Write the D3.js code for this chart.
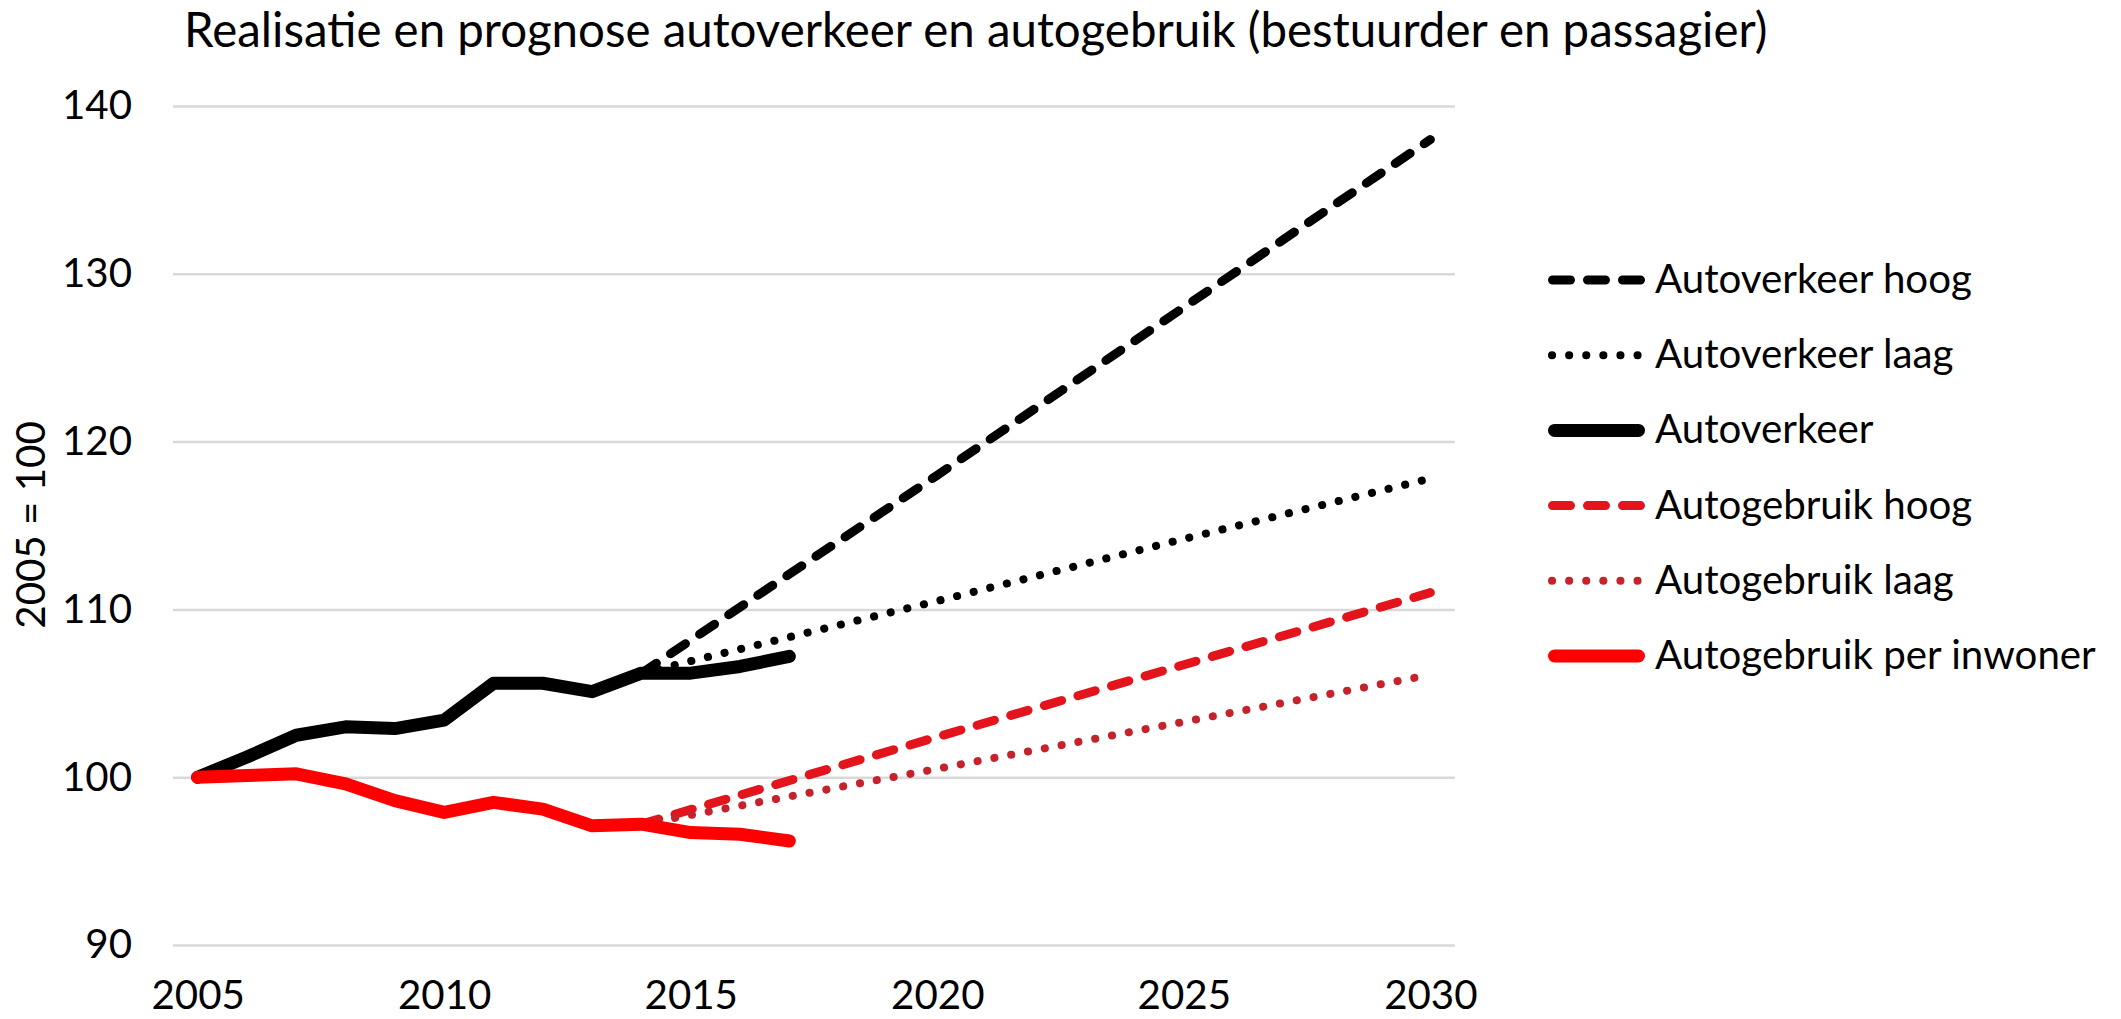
<!DOCTYPE html>
<html>
<head>
<meta charset="utf-8">
<script src="https://cdn.jsdelivr.net/npm/d3@7"></script>
<style>
  body { margin: 0; background: #fff; }
  svg { display: block; font-family: Lato, "Open Sans", sans-serif; }
</style>
</head>
<body>
<div class="chart"></div>
<script>
// realisatie 2005-2017 (2005 = 100)
const years = [2005, 2006, 2007, 2008, 2009, 2010, 2011, 2012, 2013, 2014, 2015, 2016, 2017];
const autoverkeer = [100, 101.2, 102.5, 103.0, 102.9, 103.4, 105.6, 105.6, 105.1, 106.2, 106.2, 106.6, 107.2];
const autogebruik = [100, 100.1, 100.2, 99.6, 98.6, 97.9, 98.5, 98.1, 97.1, 97.2, 96.7, 96.6, 96.2];

// prognose
const prognoseYears = [2014, 2020, 2025, 2030];
const autoverkeerHoog = [106.2, 118.0, 128.0, 138.0];
const autoverkeerLaag = [106.2, 110.5, 114.2, 117.8];
const autogebruikHoog = [97.2, 102.4, 106.7, 111.0];
const autogebruikLaag = [97.2, 100.5, 103.3, 106.1];

const seriesNames = ['Autoverkeer hoog', 'Autoverkeer laag', 'Autoverkeer',
  'Autogebruik hoog', 'Autogebruik laag', 'Autogebruik per inwoner'];
const xTicks = [2005, 2010, 2015, 2020, 2025, 2030];
const yTicks = [90, 100, 110, 120, 130, 140];

const titleText = 'Realisatie en prognose autoverkeer en autogebruik (bestuurder en passagier)';
const yTitle = '2005 = 100';

function zipSeries (xs, ys) {
  return xs.map((x, i) => ({ year: x, value: ys[i] }));
}

let chart = {
  svg: {},
  x: {},
  y: {},
  fontSize: 40,
  config: {
    w: 2121,
    h: 1019,
    plotLeft: 173,
    plotRight: 1455,
    plotTop: 106,
    plotBottom: 945,
    legendX: 1548,
    legendLineW: 97,
    legendTop: 280,
    legendStep: 75.2
  },
  // line styles per serie, same order as seriesNames
  styles: [
    { color: '#000', width: 9, dash: '18,17' },
    { color: '#000', width: 8, dash: '0.1,17' },
    { color: '#000', width: 13, dash: null },
    { color: '#e3141c', width: 9, dash: '18,17' },
    { color: '#c4232b', width: 8, dash: '0.1,17' },
    { color: '#ff0000', width: 13, dash: null }
  ],
  init: function () {
    this.svg = d3.select('.chart').append('svg')
      .attr('width', this.config.w)
      .attr('height', this.config.h);
    this.x = d3.scaleLinear().domain([2004.5, 2030.5]).range([this.config.plotLeft, this.config.plotRight]);
    this.y = d3.scaleLinear().domain([90, 140]).range([this.config.plotBottom, this.config.plotTop]);
    this.measure();
    this.axes();
    this.lines();
    this.legend();
    this.title();
  },
  // pick the font size so the longest legend label gets its width from the picture
  measure: function () {
    let t = this.svg.append('text').style('font-size', '100px').text(seriesNames[5]);
    let w = t.node().getComputedTextLength();
    t.remove();
    this.fontSize = 100 * 441 / w;
  },
  axes: function () {
    let c = this.config;
    let yAxis = d3.axisLeft(this.y).tickValues(yTicks)
      .tickSize(-(c.plotRight - c.plotLeft)).tickPadding(41);
    let g = this.svg.append('g')
      .attr('class', 'y axis')
      .attr('transform', `translate(${c.plotLeft},0)`)
      .call(yAxis);
    g.select('.domain').remove();
    g.selectAll('.tick line').attr('stroke', '#d9d9d9').attr('stroke-width', 2.5);
    g.selectAll('.tick text')
      .attr('fill', '#000')
      .style('font-size', this.fontSize + 'px')
      .style('font-family', 'Lato, sans-serif');

    let xAxis = d3.axisBottom(this.x).tickValues(xTicks).tickSize(0).tickFormat(d3.format('d'));
    let gx = this.svg.append('g')
      .attr('class', 'x axis')
      .attr('transform', `translate(0,${c.plotBottom})`)
      .call(xAxis);
    gx.select('.domain').remove();
    gx.selectAll('.tick text')
      .attr('fill', '#000')
      .attr('y', 0)
      .attr('dy', 64)
      .style('font-size', this.fontSize + 'px')
      .style('font-family', 'Lato, sans-serif');

    // y axis title
    this.svg.append('text')
      .attr('transform', 'translate(45,525) rotate(-90)')
      .attr('text-anchor', 'middle')
      .style('font-size', this.fontSize + 'px')
      .text(yTitle);
  },
  lines: function () {
    let line = d3.line()
      .x(d => this.x(d.year))
      .y(d => this.y(d.value));
    let data = [
      zipSeries(prognoseYears, autoverkeerHoog),
      zipSeries(prognoseYears, autoverkeerLaag),
      zipSeries(years, autoverkeer),
      zipSeries(prognoseYears, autogebruikHoog),
      zipSeries(prognoseYears, autogebruikLaag),
      zipSeries(years, autogebruik)
    ];
    this.svg.append('g')
      .attr('class', 'lines')
      .selectAll('path')
      .data(data)
      .enter()
      .append('path')
      .attr('fill', 'none')
      .attr('stroke', (d, i) => this.styles[i].color)
      .attr('stroke-width', (d, i) => this.styles[i].width)
      .attr('stroke-dasharray', (d, i) => this.styles[i].dash)
      .attr('stroke-linecap', 'round')
      .attr('stroke-linejoin', 'round')
      .attr('d', line);
  },
  legend: function () {
    let c = this.config;
    let items = this.svg.append('g')
      .attr('class', 'legend')
      .selectAll('g')
      .data(seriesNames)
      .enter()
      .append('g')
      .attr('transform', (d, i) => `translate(${c.legendX},${c.legendTop + i * c.legendStep})`);
    items.append('line')
      .attr('x1', (d, i) => this.styles[i].width / 2)
      .attr('x2', (d, i) => c.legendLineW - this.styles[i].width / 2)
      .attr('stroke', (d, i) => this.styles[i].color)
      .attr('stroke-width', (d, i) => this.styles[i].width)
      .attr('stroke-dasharray', (d, i) => this.styles[i].dash)
      .attr('stroke-linecap', 'round');
    items.append('text')
      .attr('x', 107)
      .attr('y', 13)
      .style('font-size', this.fontSize + 'px')
      .text(d => d);
  },
  title: function () {
    let t = this.svg.append('text')
      .attr('x', 184)
      .attr('y', 47)
      .style('font-size', '100px')
      .text(titleText);
    let w = t.node().getComputedTextLength();
    t.style('font-size', (100 * 1584 / w) + 'px');
  }
};

chart.init();
</script>
</body>
</html>
